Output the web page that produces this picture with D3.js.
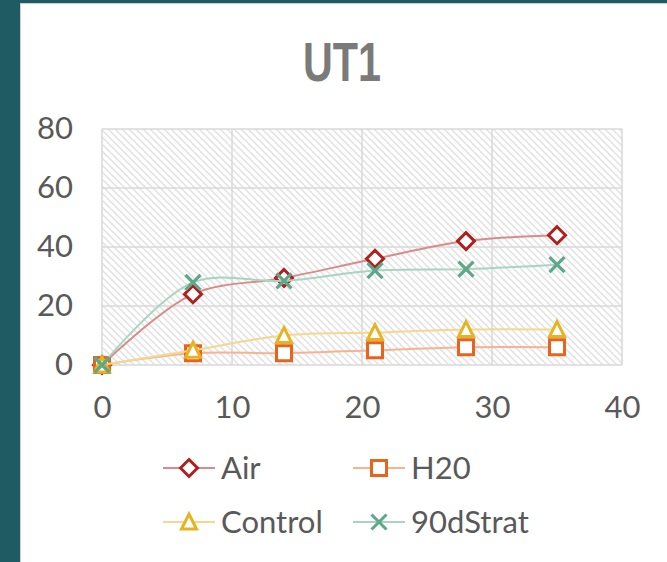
<!DOCTYPE html>
<html>
<head>
<meta charset="utf-8">
<script src="https://cdn.jsdelivr.net/npm/d3@7"></script>
<style>
  html, body { margin: 0; padding: 0; background: #1f5b63; }
  svg { display: block; }
</style>
</head>
<body>
<svg id="chart" width="667" height="562"></svg>
<script>
// 数据
var days = [0, 7, 14, 21, 28, 35];
var air = [0, 24, 29.5, 36, 42, 44];
var h20 = [0, 4, 4, 5, 6, 6];
var control = [0, 5, 10, 11, 12, 12];
var strat90d = [0, 28, 28.5, 32, 32.5, 34];
var xTicks = [0, 10, 20, 30, 40];
var yTicks = [0, 20, 40, 60, 80];
var seriesNames = ["Air", "H20", "Control", "90dStrat"];

var series = [
    {name: seriesNames[0], values: air, line: "#d98b8b", marker: "#b01f1f", symbol: "diamond"},
    {name: seriesNames[1], values: h20, line: "#f5b391", marker: "#e8641c", symbol: "square"},
    {name: seriesNames[2], values: control, line: "#f5d88e", marker: "#e6b322", symbol: "triangle"},
    {name: seriesNames[3], values: strat90d, line: "#a8d4c1", marker: "#5ea889", symbol: "cross"}
];

var svg = d3.select("#chart");
var font = "Lato, 'Open Sans', sans-serif";
var textColor = "#595959";

// 背景卡片
svg.append("rect")
    .attr("x", 20.5).attr("y", 3.5)
    .attr("width", 660).attr("height", 570)
    .attr("fill", "#ffffff")
    .attr("stroke", "#cfcfcf")
    .attr("stroke-width", 1);

// 斜线填充
var defs = svg.append("defs");
var pat = defs.append("pattern")
    .attr("id", "hatch")
    .attr("patternUnits", "userSpaceOnUse")
    .attr("width", 7).attr("height", 7);
pat.append("rect").attr("width", 7).attr("height", 7).attr("fill", "#ffffff");
pat.append("path")
    .attr("d", "M-1,-1 L8,8 M-1,6 L1,8 M6,-1 L8,1")
    .attr("stroke", "#e2e2e2")
    .attr("stroke-width", 1.5);

var x = d3.scaleLinear().domain([0, 40]).range([102, 622]);
var y = d3.scaleLinear().domain([0, 80]).range([365, 129]);

svg.append("rect")
    .attr("x", x(0)).attr("y", y(80))
    .attr("width", x(40) - x(0)).attr("height", y(0) - y(80))
    .attr("fill", "url(#hatch)");

// 网格线
svg.append("g").selectAll("line.gx")
    .data(xTicks)
    .enter().append("line")
    .attr("x1", function(d){ return x(d); })
    .attr("x2", function(d){ return x(d); })
    .attr("y1", y(0)).attr("y2", y(80))
    .attr("stroke", "#d9d9d9").attr("stroke-width", 1.5);
svg.append("g").selectAll("line.gy")
    .data(yTicks)
    .enter().append("line")
    .attr("y1", function(d){ return y(d); })
    .attr("y2", function(d){ return y(d); })
    .attr("x1", x(0)).attr("x2", x(40))
    .attr("stroke", "#d9d9d9").attr("stroke-width", 1.5);

// 坐标轴
var xAxis = svg.append("g")
    .attr("transform", "translate(0," + (y(0) + 31) + ")")
    .call(d3.axisBottom(x).tickValues(xTicks).tickSize(0).tickPadding(0));
var yAxis = svg.append("g")
    .attr("transform", "translate(" + (x(0) - 29) + ",0)")
    .call(d3.axisLeft(y).tickValues(yTicks).tickSize(0).tickPadding(0));
[xAxis, yAxis].forEach(function(a){
    a.select(".domain").remove();
    a.selectAll("text")
        .attr("fill", textColor)
        .style("font-family", font)
        .style("font-size", "31px");
});
xAxis.selectAll("text").attr("dy", "0.71em");

// 标题
svg.append("text")
    .attr("x", 342).attr("y", 81)
    .attr("text-anchor", "middle")
    .attr("fill", "#7a7a7a")
    .attr("textLength", 78)
    .attr("lengthAdjust", "spacingAndGlyphs")
    .style("font-family", "'Liberation Sans', Arial, sans-serif")
    .style("font-weight", "bold")
    .style("font-size", "55px")
    .text("UT1");

function symbolPath(type){
    if(type === "diamond") return "M0,-8.5 L8.5,0 L0,8.5 L-8.5,0 Z";
    if(type === "square") return "M-7.5,-7.5 L7.5,-7.5 L7.5,7.5 L-7.5,7.5 Z";
    if(type === "triangle") return "M0,-8 L7.5,7 L-7.5,7 Z";
    return "M-7.5,-7.5 L7.5,7.5 M7.5,-7.5 L-7.5,7.5";
}

var line = d3.line()
    .x(function(d, i){ return x(days[i]); })
    .y(function(d){ return y(d); })
    .curve(d3.curveCatmullRom.alpha(0.5));

// 折线与标记
series.forEach(function(s){
    var g = svg.append("g").datum(s);
    g.append("path")
        .attr("d", line(s.values))
        .attr("fill", "none")
        .attr("stroke", s.line)
        .attr("stroke-width", 2);
    g.selectAll("path.mk")
        .data(s.values)
        .enter().append("path")
        .classed("mk", true)
        .attr("transform", function(d, i){ return "translate(" + x(days[i]) + "," + y(d) + ")"; })
        .attr("d", symbolPath(s.symbol))
        .attr("fill", s.symbol === "cross" ? "none" : "#ffffff")
        .attr("stroke", s.marker)
        .attr("stroke-width", s.symbol === "cross" ? 3.2 : 3);
});

// 图例
var legendPos = [[163, 468], [353, 468], [163, 522], [353, 522]];
series.forEach(function(s, i){
    var p = legendPos[i];
    var lg = svg.append("g").attr("transform", "translate(" + p[0] + "," + p[1] + ")");
    lg.append("line")
        .attr("x1", 0).attr("x2", 52)
        .attr("stroke", s.line).attr("stroke-width", 2);
    lg.append("path")
        .attr("transform", "translate(26,0)")
        .attr("d", symbolPath(s.symbol))
        .attr("fill", s.symbol === "cross" ? "none" : "#ffffff")
        .attr("stroke", s.marker)
        .attr("stroke-width", 3);
    lg.append("text")
        .attr("x", 58).attr("dy", "0.36em")
        .attr("fill", textColor)
        .style("font-family", font)
        .style("font-size", "31px")
        .text(s.name);
});
</script>
</body>
</html>
